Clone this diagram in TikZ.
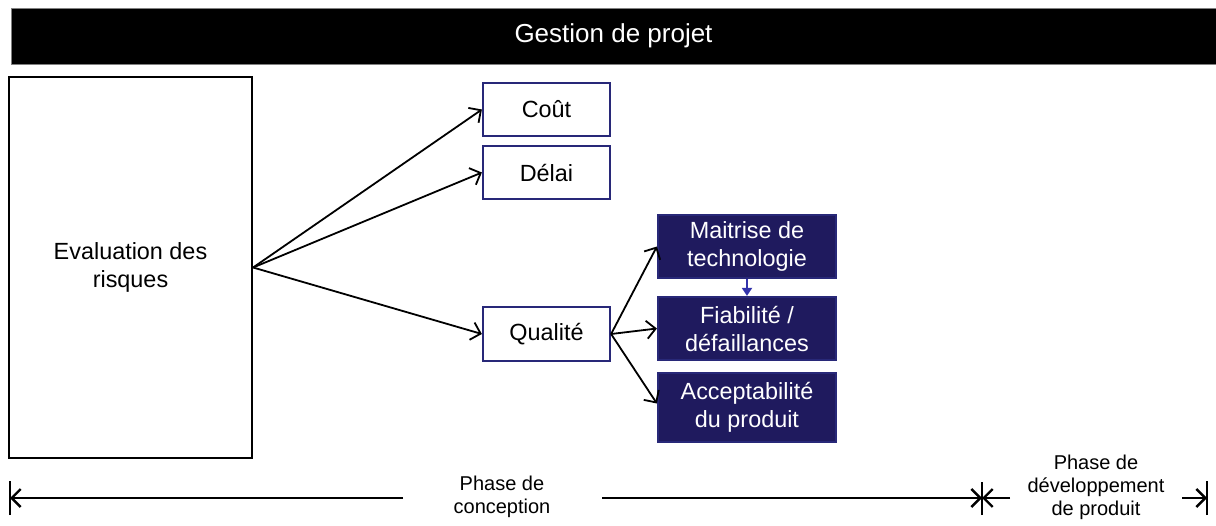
\documentclass[tikz,border=0pt]{standalone}
\usepackage{fontspec}
\setmainfont{Liberation Sans}
\usetikzlibrary{arrows.meta}
\definecolor{navy}{RGB}{31,26,94}
\definecolor{navyline}{RGB}{40,40,120}
\definecolor{linkblue}{RGB}{50,50,170}
\tikzset{
  box/.style={draw=navyline,line width=1.1pt,fill=white,align=center,inner sep=0pt,
    font=\fontsize{11.7}{14}\selectfont},
  bluebox/.style={box,fill=navy,text=white},
  link/.style={line width=0.9pt,-{Straight Barb[length=4.5pt,width=9pt]}},
  phase/.style={align=center,font=\fontsize{10}{11.5}\selectfont},
  bar/.style={line width=1pt}
}
\begin{document}
\begin{tikzpicture}[x=0.5pt,y=-0.5pt]
\useasboundingbox (0,0) rectangle (1216,525);
\node[fill=black,draw=gray,minimum width=602.5pt,minimum height=28pt,text=white,
  font=\fontsize{13}{15}\selectfont] (gestion) at (613.5,36) {Gestion de projet};
\node[box,draw=black,minimum width=121.5pt,minimum height=190.5pt] (eval) at (130.5,267.5) {Evaluation des\\risques};
\node[box,minimum width=63.5pt,minimum height=26.5pt] (cout) at (546.5,109.5) {Coût};
\node[box,minimum width=63.5pt,minimum height=26.5pt] (delai) at (546.5,172.5) {Délai};
\node[box,minimum width=63.5pt,minimum height=27pt] (qualite) at (546.5,334) {Qualité};
\node[bluebox,minimum width=89pt,minimum height=31.5pt] (maitrise) at (747,246.5) {Maitrise de\\technologie};
\node[bluebox,minimum width=89pt,minimum height=31.5pt] (fiab) at (747,328.5) {Fiabilité /\\défaillances};
\node[bluebox,minimum width=89pt,minimum height=34.5pt] (accept) at (747,407.5) {Acceptabilité\\du produit};
\draw[link] (eval.east) -- (cout.west);
\draw[link] (eval.east) -- (delai.west);
\draw[link] (eval.east) -- (qualite.west);
\draw[link] (qualite.east) -- (maitrise.west);
\draw[link] (qualite.east) -- (fiab.west);
\draw[link] (qualite.east) -- ([yshift=2pt]accept.west);
\draw[linkblue,line width=0.9pt,-{Triangle[length=4pt,width=5pt]}] (maitrise.south) -- (fiab.north);
% phases
\node[phase] (conception) at (502,497) {Phase de\\conception};
\node[phase] (developpement) at (1096,487) {Phase de\\développement\\de produit};
\coordinate (t0) at (10,498);
\coordinate (c1) at (403,498);
\coordinate (c2) at (602,498);
\coordinate (t1) at (982,498);
\coordinate (d1) at (1010,498);
\coordinate (d2) at (1182,498);
\coordinate (t2) at (1207,498);
\draw[link,line width=1.2pt] (c1) -- (t0);
\draw[link,line width=1.2pt] (c2) -- (t1);
\draw[link,line width=1.2pt] (d1) -- (t1);
\draw[link,line width=1.2pt] (d2) -- (t2);
\draw[bar] ([yshift=-8.5pt]t0) -- ([yshift=8.5pt]t0);
\draw[bar] ([yshift=-8.5pt]t1) -- ([yshift=8pt]t1);
\draw[bar] ([yshift=-8.5pt]t2) -- ([yshift=8.5pt]t2);
\end{tikzpicture}
\end{document}
